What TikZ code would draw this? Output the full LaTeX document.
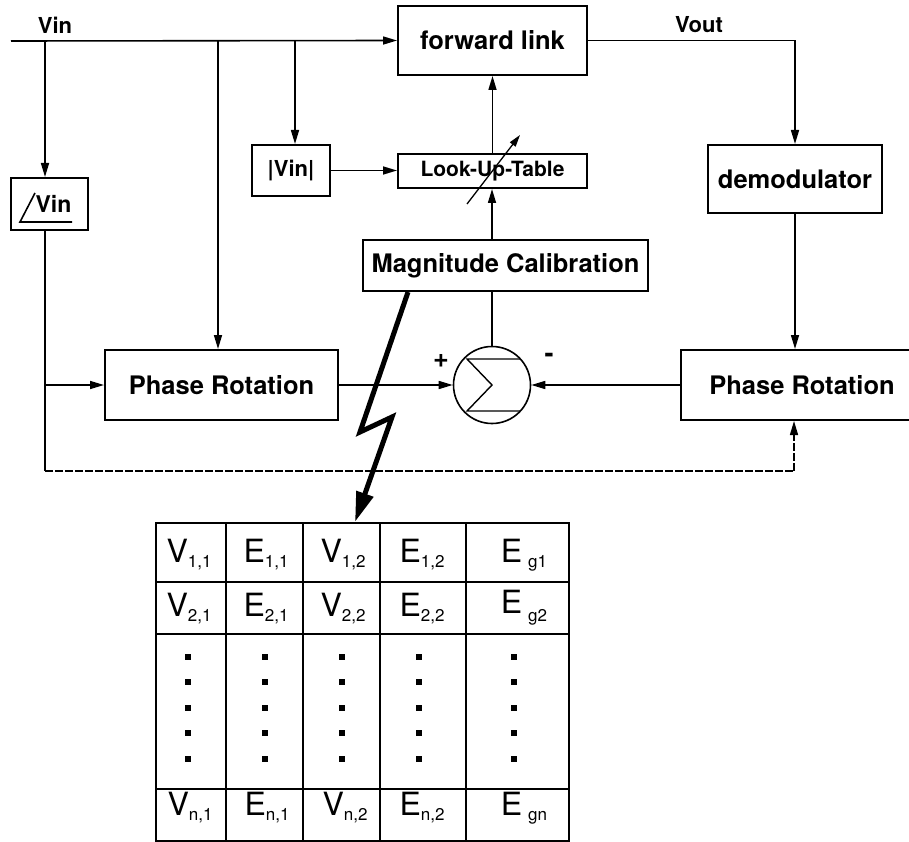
\documentclass[tikz,border=0pt]{standalone}
\usepackage{fontspec}
\setmainfont{TeX Gyre Heros}
\usetikzlibrary{arrows.meta,calc}
\newcommand\tsub[1]{\raisebox{-5pt}{\fontsize{17}{17}\selectfont #1}}
\begin{document}
\begin{tikzpicture}[x=1pt,y=-1pt,
 box/.style={draw,line width=2pt,inner sep=0pt,font=\fontsize{25.5}{30}\selectfont\bfseries},
 lbl/.style={inner sep=0pt,font=\fontsize{22}{26}\selectfont\bfseries},
 conn/.style={line width=1.6pt},
 arr/.style={conn,-{Triangle[length=14pt,width=8pt]}},
 dsh/.style={line width=1.4pt,dash pattern=on 8pt off 2pt},
 cell/.style={inner sep=0pt,anchor=base,font=\fontsize{32}{36}\selectfont},
 tbl/.style={line width=2pt},
 dotsq/.style={fill=black,minimum size=5.5pt,inner sep=0pt},
]
\clip (0,0) rectangle (909,842);

% blocks
\node[box,minimum width=189pt,minimum height=69pt] (fwd) at (492.5,40.5) {forward link};
\node[box,minimum width=189pt,minimum height=34pt,font=\fontsize{21}{24}\selectfont\bfseries] (lut) at (492.5,171) {Look-Up-Table};
\node[box,minimum width=78pt,minimum height=51pt,font=\fontsize{22}{26}\selectfont\bfseries] (absvin) at (291,170.5) {|Vin|};
\node[box,minimum width=77pt,minimum height=52pt] (angvin) at (49.5,204) {};
\node[lbl,anchor=base,font=\fontsize{23}{26}\selectfont\bfseries] (angtxt) at (53.5,213) {Vin};
\node[box,minimum width=174pt,minimum height=68pt] (dem) at (795,179) {demodulator};
\node[box,minimum width=285pt,minimum height=51pt] (magcal) at (505.5,265.5) {Magnitude Calibration};
\node[box,minimum width=233pt,minimum height=70pt] (lpr) at (221.5,385) {Phase Rotation};
\node[box,minimum width=242pt,minimum height=70pt] (rpr) at (802,385) {Phase Rotation};
\node[draw,circle,line width=1.6pt,minimum size=77pt,inner sep=0pt] (sum) at (492,385) {};

% angle sign
\draw[conn] ([shift={(-14.5,-11)}]angvin.center) -- ([shift={(-29.5,18)}]angvin.center) -- ([shift={(22.5,18)}]angvin.center);
% sigma
\draw[line width=1.4pt] ([shift={(28,-26)}]sum.center) -- ([shift={(-25,-26)}]sum.center) -- (sum.center) -- ([shift={(-25,26)}]sum.center) -- ([shift={(28,26)}]sum.center);

% labels
\node[lbl] (vinlbl) at (55,25) {Vin};
\node[lbl] (voutlbl) at (699,25) {Vout};
\node[lbl,font=\fontsize{27}{28}\selectfont\bfseries] (plus) at (441,361) {+};
\node[lbl,font=\fontsize{27}{28}\selectfont\bfseries] (minus) at (549,358) {-};

% coordinates
\coordinate (vs) at (11,41);
\coordinate (j1) at (45,41);
\coordinate (j2) at (218,41);
\coordinate (j3) at (295,41);
\coordinate (jl) at (45,385);
\coordinate (bl) at (45,471);
\coordinate (br) at (794,471);

% connectors
\draw[arr] (vs) -- (fwd.west);
\draw[arr] (j1) -- (j1 |- angvin.north);
\draw[arr] (j2) -- (j2 |- lpr.north);
\draw[arr] (j3) -- (j3 |- absvin.north);
\draw[arr] (absvin.east) -- (absvin.east -| lut.west);
\draw[arr] (lut.north) -- (fwd.south);
\draw[arr] (sum |- magcal.north) -- (sum |- lut.south);
\draw[conn] (sum |- magcal.south) -- (sum.north);
\draw[arr] (fwd.east) -- (fwd.east -| dem.north) -- (dem.north);
\draw[arr] (dem.south) -- (dem.south |- rpr.north);
\draw[arr] (rpr.west) -- (sum.east);
\draw[arr] (lpr.east) -- (sum.west);
\draw[conn] (j1 |- angvin.south) -- (bl);
\draw[arr] (jl) -- (lpr.west);
\draw[dsh] (bl) -- (br);
\draw[dsh,-{Triangle[length=14pt,width=8pt]}] (br) -- (br |- rpr.south);
% variable arrow through LUT
\draw[conn,line width=1.3pt,-{Triangle[length=12pt,width=7pt]}] ([shift={(-25.5,33)}]lut.center) -- ([shift={(27.5,-36)}]lut.center);

% table
\node[draw,tbl,minimum width=413pt,minimum height=318pt,inner sep=0pt] (table) at (362.5,682) {};
\foreach \xx in {226,303,380,466} \draw[tbl] (\xx,523) -- (\xx,841);
\foreach \yy in {582,634,789} \draw[tbl] (156,\yy) -- (569,\yy);

% lightning
\coordinate (b1) at (360,432);
\coordinate (b2) at (392,417);
\draw[line width=5pt,line join=miter,-{Triangle[length=30pt,width=17pt]}] ([shift={(-97.5,0)}]magcal.south) -- (b1) -- (b2) -- ([shift={(-7.5,0)}]table.north);

% cells
\node[cell] (c11) at (189,562) {V\tsub{1,1}};
\node[cell] (c12) at (266,562) {E\tsub{1,1}};
\node[cell] (c13) at (343,562) {V\tsub{1,2}};
\node[cell] (c14) at (422,562) {E\tsub{1,2}};
\node[cell] (c15) at (524,562) {E\kern6pt\tsub{g1}};
\node[cell] (c21) at (189,616) {V\tsub{2,1}};
\node[cell] (c22) at (266,616) {E\tsub{2,1}};
\node[cell] (c23) at (343,616) {V\tsub{2,2}};
\node[cell] (c24) at (422,616) {E\tsub{2,2}};
\node[cell] (c25) at (524,613) {E\kern6pt\raisebox{-3pt}{\tsub{g2}}};
\node[cell] (c41) at (190,815) {V\tsub{n,1}};
\node[cell] (c42) at (267,815) {E\tsub{n,1}};
\node[cell] (c43) at (345,815) {V\tsub{n,2}};
\node[cell] (c44) at (422,815) {E\tsub{n,2}};
\node[cell] (c45) at (524,815) {E\kern6pt\tsub{gn}};
\foreach \xx in {188,265,342,419,514}
  \foreach \yy in {657,682,708,733,759}
    \node[dotsq] at (\xx,\yy) {};
\end{tikzpicture}
\end{document}
